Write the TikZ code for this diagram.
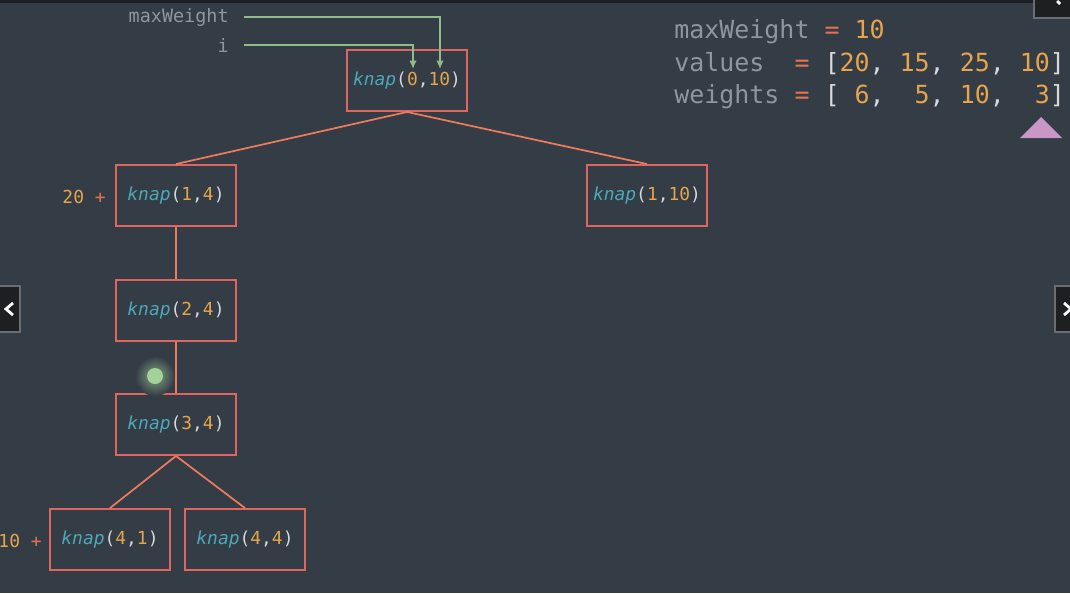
\documentclass[tikz,border=0pt]{standalone}
\usepackage{fontspec}
\setmonofont{DejaVu Sans Mono}
\usetikzlibrary{arrows.meta,positioning}
\definecolor{Slate}{HTML}{343C46}
\definecolor{Bar}{HTML}{1B1E23}
\definecolor{Btn}{HTML}{1E1F21}
\definecolor{BtnEdge}{HTML}{6A6E72}
\definecolor{Coral}{HTML}{DE6560}
\definecolor{Salmon}{HTML}{EC7A5C}
\definecolor{Teal}{HTML}{4DA8B6}
\definecolor{Amber}{HTML}{E6A54C}
\definecolor{Paren}{HTML}{D6D8DA}
\definecolor{Ash}{HTML}{8F969E}
\definecolor{Minus}{HTML}{E27452}
\definecolor{Sage}{HTML}{8FBC8A}
\definecolor{Mint}{HTML}{A2D199}
\definecolor{Lilac}{HTML}{C996C6}
\newcommand{\knap}[2]{{\color{Teal}\textit{knap}}{\color{Paren}(}{\color{Amber}#1}{\color{Paren},}{\color{Amber}#2}{\color{Paren})}}

\begin{document}
\begin{tikzpicture}[
  x=0.02cm,y=-0.02cm,
  call/.style={draw=Coral,line width=1.1pt,minimum width=2.4cm,minimum height=1.22cm,inner sep=0pt,font=\ttfamily\fontsize{10.2}{12}\selectfont},
  edge/.style={draw=Salmon,line width=1pt},
  pointer/.style={-{Latex[length=1.7mm,width=1.5mm]},draw=Sage,line width=0.8pt},
  gain/.style={font=\ttfamily\fontsize{10.2}{12}\selectfont,inner sep=0pt,anchor=east},
  param/.style={font=\ttfamily\fontsize{10.5}{12}\selectfont,text=Ash,inner sep=0pt,anchor=east},
  code/.style={font=\ttfamily\fontsize{14.2}{17}\selectfont,inner sep=0pt,anchor=west},
  navbtn/.style={draw=BtnEdge,fill=Btn,line width=0.6pt},
  chevron/.style={draw=white,line width=1.6pt}
]
\fill[Slate] (0,0) rectangle (1070,593);
\useasboundingbox (0,0) rectangle (1070,593);
\fill[Bar] (0,0) rectangle (1070,3);

\node[call] (k010) at (407,80.5) {\knap{0}{10}};
\node[call] (k14) at (176,195.5) {\knap{1}{4}};
\node[call] (k110) at (647,195.5) {\knap{1}{10}};
\node[call] (k24) at (176,310.5) {\knap{2}{4}};
\node[call] (k34) at (176,424.5) {\knap{3}{4}};
\node[call] (k41) at (110,539.5) {\knap{4}{1}};
\node[call] (k44) at (245,539.5) {\knap{4}{4}};

\draw[edge] (k010.south) -- (k14.north);
\draw[edge] (k010.south) -- (k110.north);
\draw[edge] (k14.south) -- (k24.north);
\draw[edge] (k24.south) -- (k34.north);
\draw[edge] (k34.south) -- (k41.north);
\draw[edge] (k34.south) -- (k44.north);

\node[gain] (g20) at (106,197) {{\color{Amber}20} {\color{Minus}+}};
\node[gain] (g10) at (42,541) {{\color{Amber}10} {\color{Minus}+}};

\node[param] (pmax) at (229,17) {maxWeight};
\node[param] (pi) at (229,45) {i};
\coordinate (tipmax) at (440,69);
\coordinate (tipi) at (413,69);
\draw[pointer] ([xshift=11\pgflinewidth]pmax.east) -| (tipmax);
\draw[pointer] ([xshift=11\pgflinewidth]pi.east) -| (tipi);

\node[code] (cmax) at (674,32) {{\color{Ash}maxWeight} {\color{Minus}=} {\color{Amber}10}};
\node[code] (cval) at (674,64) {{\color{Ash}values}\ \ {\color{Minus}=} {\color{Paren}[}{\color{Amber}20}{\color{Paren},} {\color{Amber}15}{\color{Paren},} {\color{Amber}25}{\color{Paren},} {\color{Amber}10}{\color{Paren}]}};
\node[code] (cwt) at (674,96.5) {{\color{Ash}weights} {\color{Minus}=} {\color{Paren}[}\ {\color{Amber}6}{\color{Paren},}\ \ {\color{Amber}5}{\color{Paren},} {\color{Amber}10}{\color{Paren},}\ \ {\color{Amber}3}{\color{Paren}]}};
\fill[Lilac] (1020,138) -- (1041,117) -- (1062,138) -- cycle;

\shade[inner color=Mint!70!Slate,outer color=Slate] (155,376) circle (20);
\fill[Mint] (155,376) circle (8);

\draw[navbtn] (-2,286) rectangle (20,332);
\draw[chevron] (13,303) -- (6,309) -- (13,315);
\draw[navbtn] (1055,286) rectangle (1072,332);
\draw[chevron] (1064,303) -- (1071,309) -- (1064,315);
\draw[navbtn] (1034,-2) rectangle (1072,18);
\draw[chevron] (1057,1) -- (1060,4);
\end{tikzpicture}
\end{document}
